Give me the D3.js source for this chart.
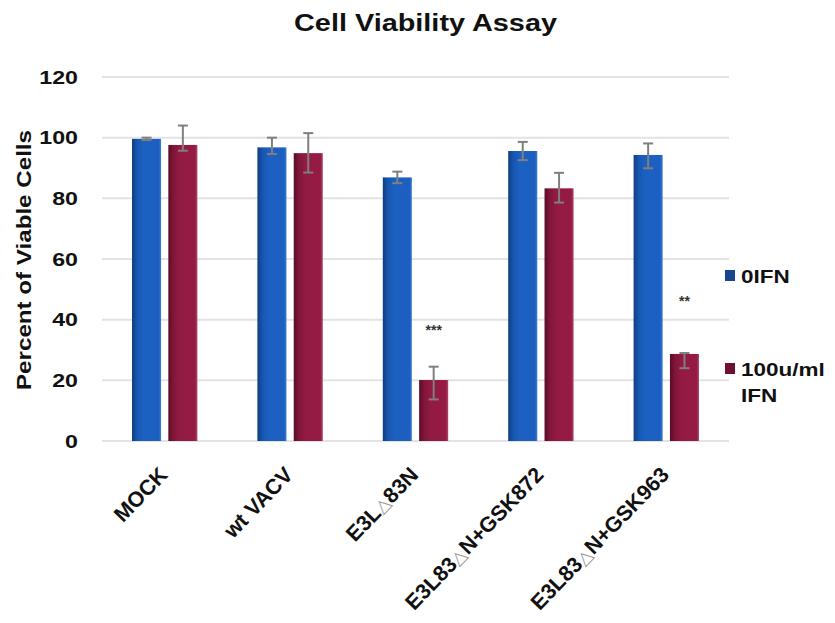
<!DOCTYPE html>
<html><head><meta charset="utf-8">
<script src="https://cdn.jsdelivr.net/npm/d3@7"></script>
<style>body{margin:0;background:#fff;} text{font-family:"Liberation Sans",Arial,sans-serif;}</style>
</head><body>
<svg id="c" width="835" height="623"></svg>
<script>
const categories = ["MOCK", "wt VACV", "E3L△83N", "E3L83△N+GSK872", "E3L83△N+GSK963"];
const seriesNames = ["0IFN", "100u/ml IFN"];
const values0 = [99.6, 96.8, 86.9, 95.6, 94.3];
const values100 = [97.6, 94.9, 20.1, 83.3, 28.7];
const errPlus0 = [0.4, 3.2, 1.9, 3.0, 3.8];
const errMinus0 = [0.4, 2.2, 1.9, 3.0, 4.4];
const errPlus100 = [6.4, 6.6, 4.4, 5.1, 0.3];
const errMinus100 = [1.9, 6.4, 6.4, 4.7, 4.7];
const significance = ["", "", "***", "", "**"];
const significanceLevel = [0, 0, 35, 0, 44.6];
const yTicks = [0, 20, 40, 60, 80, 100, 120];

const svg = d3.select("#c");
const defs = svg.append("defs");
function grad(id, stops){
  const g = defs.append("linearGradient").attr("id", id).attr("x1","0").attr("x2","1").attr("y1","0").attr("y2","0");
  stops.forEach(s => g.append("stop").attr("offset", s[0]).attr("stop-color", s[1]));
}
grad("gBlue", [["0","#0f3d80"],["0.18","#1757b0"],["0.4","#1c60c2"],["0.92","#1c5fc0"],["1","#3f7fd0"]]);
grad("gRed", [["0","#5a0c26"],["0.18","#801638"],["0.4","#931a43"],["0.92","#951b45"],["1","#b04a6a"]]);

const x0 = d3.scaleBand().domain(categories).range([102, 729]).padding(0);
const x1 = d3.scaleBand().domain([0,1]).range([30, x0.bandwidth()-30]).paddingInner(0.2);
const y = d3.scaleLinear().domain([0,120]).range([441, 77]);

// gridlines
svg.append("g").selectAll("line").data(yTicks).join("line")
  .attr("x1", 102).attr("x2", 729).attr("y1", d=>y(d)).attr("y2", d=>y(d))
  .attr("stroke", "#e3e3e3").attr("stroke-width", 2);

// y tick labels
svg.append("g").selectAll("text").data(yTicks).join("text")
  .attr("transform", d=>`translate(78,${y(d)}) scale(1.22,1)`)
  .attr("text-anchor","end").attr("dy","0.35em")
  .attr("font-size", 19).attr("font-weight","bold").attr("fill","#111")
  .text(d=>d);

// bars
const series = [values0, values100];
const eplus = [errPlus0, errPlus100];
const eminus = [errMinus0, errMinus100];
const fills = ["url(#gBlue)", "url(#gRed)"];
const rows = [];
categories.forEach((c,i)=>{ [0,1].forEach(s=>rows.push({c, i, s, v: series[s][i], ep: eplus[s][i], em: eminus[s][i]})); });
svg.append("g").selectAll("rect").data(rows).join("rect")
  .attr("x", d=>x0(d.c)+x1(d.s)).attr("width", x1.bandwidth())
  .attr("y", d=>y(d.v)).attr("height", d=>y(0)-y(d.v))
  .attr("fill", d=>fills[d.s]);

// error bars
const eb = svg.append("g").attr("stroke","#7f7f7f").attr("stroke-width",2);
rows.forEach(d=>{
  const cx = x0(d.c)+x1(d.s)+x1.bandwidth()/2;
  eb.append("line").attr("x1",cx).attr("x2",cx).attr("y1",y(d.v+d.ep)).attr("y2",y(d.v-d.em));
  eb.append("line").attr("x1",cx-5).attr("x2",cx+5).attr("y1",y(d.v+d.ep)).attr("y2",y(d.v+d.ep));
  eb.append("line").attr("x1",cx-5).attr("x2",cx+5).attr("y1",y(d.v-d.em)).attr("y2",y(d.v-d.em));
});

// significance
svg.append("g").selectAll("text").data(categories).join("text")
  .attr("x", (d)=>x0(d)+x1(1)+x1.bandwidth()/2).attr("y", (d,i)=>y(significanceLevel[i]))
  .attr("text-anchor","middle").attr("font-size",14).attr("font-weight","bold").attr("fill","#333")
  .text((d,i)=>significance[i]);

// x labels
const xl = svg.append("g").selectAll("text").data(categories).join("text")
  .attr("transform", d=>`translate(${x0(d)+x0.bandwidth()/2+4},${476}) rotate(-46)`)
  .attr("text-anchor","end").attr("font-size",21.5).attr("font-weight","bold").attr("fill","#111");
xl.each(function(d){
  const t = d3.select(this);
  d.split(/(△)/).forEach(p=>{
    if(!p) return;
    const ts = t.append("tspan").text(p);
    if(p==="△") ts.attr("font-weight","normal").attr("fill","#999").attr("font-size",18);
  });
});

// title
svg.append("text").attr("x", 294).attr("y", 31)
  .attr("textLength", 263).attr("lengthAdjust","spacingAndGlyphs")
  .attr("font-size", 23).attr("font-weight","bold").attr("fill","#111").text("Cell Viability Assay");

// y label
svg.append("text").attr("transform","translate(31,260) rotate(-90)").attr("x",-130)
  .attr("textLength", 260).attr("lengthAdjust","spacingAndGlyphs")
  .attr("font-size",20).attr("font-weight","bold").attr("fill","#111").text("Percent of Viable Cells");

// legend
const legColors = ["#15468f", "#6e1030"];
const legY = [276, 369];
const legLines = [["0IFN"], ["100u/ml","IFN"]];
[0,1].forEach(s=>{
  svg.append("rect").attr("x",725).attr("y",legY[s]-6).attr("width",10).attr("height",11).attr("fill",legColors[s]);
  const t = svg.append("text").attr("transform",`translate(741,${legY[s]+7}) scale(1.25,1)`)
    .attr("font-size",18).attr("font-weight","bold").attr("fill","#111");
  legLines[s].forEach((ln,k)=>t.append("tspan").attr("x",0).attr("dy", k?26:0).text(ln));
});
</script>
</body></html>
